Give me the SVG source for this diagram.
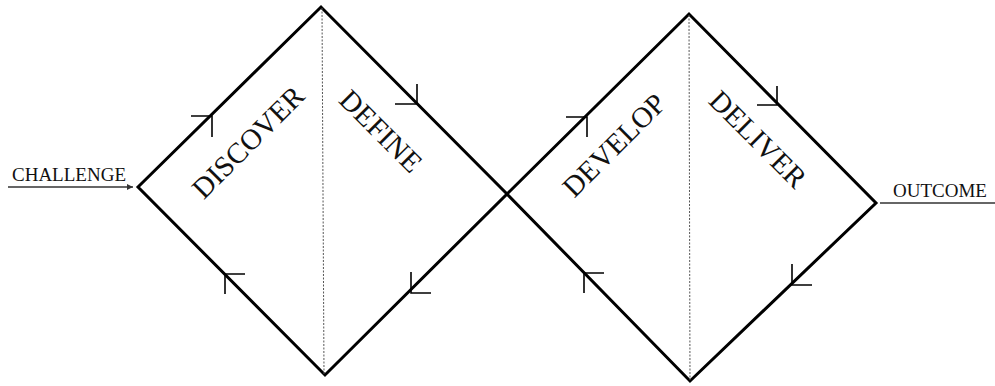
<svg xmlns="http://www.w3.org/2000/svg" width="995" height="386" viewBox="0 0 995 386">
<style>
.edge{fill:none;stroke:#000;stroke-width:3;stroke-linejoin:miter;stroke-linecap:butt}
.chev{fill:none;stroke:#000;stroke-width:1.6}
.div{fill:none;stroke:#555;stroke-width:1;stroke-dasharray:2 1.5}
.thin{fill:none;stroke:#333;stroke-width:1.3}
.big{font-family:"Liberation Serif","Times New Roman",serif;font-size:29px;fill:#111;text-anchor:middle}
.small{font-family:"Liberation Serif","Times New Roman",serif;font-size:19px;fill:#111}
</style>
<defs>
<marker id="ah" viewBox="0 0 10 10" refX="10" refY="5" markerWidth="8" markerHeight="6" markerUnits="userSpaceOnUse" orient="auto">
<path d="M0,0 L10,5 L0,10 z" fill="#333"/>
</marker>
</defs>
<rect width="995" height="386" fill="#fff"/>
<g id="connectors">
<polygon class="edge" points="138,187 321,7 507,194 325,375"/>
<polygon class="edge" points="507,194 689,14 876,203 690,381"/>
<line class="div" x1="322" y1="8" x2="324" y2="374"/>
<line class="div" x1="689" y1="15" x2="690" y2="380"/>
<line class="thin" x1="8" y1="187" x2="133" y2="187" marker-end="url(#ah)"/>
<line class="thin" x1="880" y1="203" x2="995" y2="203"/>
<polyline class="chev" points="191,116 212,116 212,137"/>
<polyline class="chev" points="395,104 417,104 417,84"/>
<polyline class="chev" points="431,293 411,293 411,272"/>
<polyline class="chev" points="225,294 225,274 245,274"/>
<polyline class="chev" points="566,117 587,117 587,137"/>
<polyline class="chev" points="757,105 777,105 777,86"/>
<polyline class="chev" points="812,285 792,285 792,264"/>
<polyline class="chev" points="584,293 584,273 604,273"/>
</g>
<g id="challenge"><text class="small" x="12" y="181">CHALLENGE</text></g>
<g id="outcome"><text class="small" x="893" y="197">OUTCOME</text></g>
<g id="discover"><text class="big" transform="translate(255,149) rotate(-45)">DISCOVER</text></g>
<g id="define"><text class="big" transform="translate(374,138) rotate(45)">DEFINE</text></g>
<g id="develop"><text class="big" transform="translate(621,152) rotate(-45)">DEVELOP</text></g>
<g id="deliver"><text class="big" transform="translate(751,146) rotate(45)">DELIVER</text></g>
</svg>
